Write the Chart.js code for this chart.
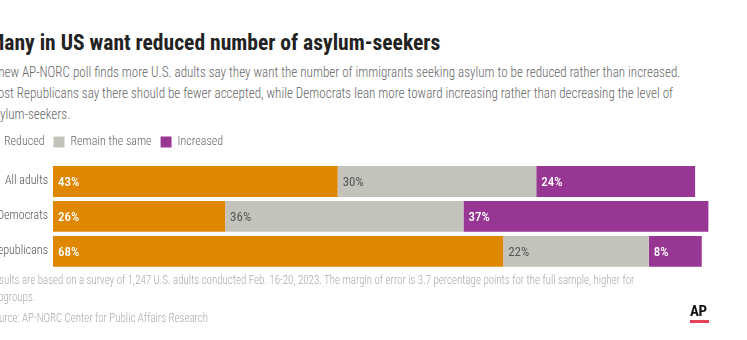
<!DOCTYPE html>
<html>
<head>
<meta charset="utf-8">
<script src="https://cdn.jsdelivr.net/npm/chart.js@4"></script>
<style>
  body { margin: 0; background: #fff; width: 747px; height: 340px; overflow: hidden; position: relative; font-family: 'Roboto Condensed', Roboto, sans-serif; }
  .txt { position: absolute; left: -12px; white-space: nowrap; transform-origin: left top; }
  #title { top: 30px; font-size: 22px; font-weight: 700; color: #222; line-height: 26px; transform: scaleX(0.98); }
  #subtitle { top: 62px; font-size: 14px; font-weight: 300; color: #666; line-height: 21px; transform: scaleX(0.935); }
  #notes { top: 272px; font-size: 12px; font-weight: 300; color: #aaa; line-height: 17px; transform: scaleX(0.91); }
  #source { top: 310px; font-size: 12px; font-weight: 300; color: #aaa; line-height: 17px; transform: scaleX(0.91); }
  #chartBox { position: absolute; left: -12px; top: 133px; width: 759px; height: 148px; }
  #ap { position: absolute; left: 690px; top: 302px; font: 700 15px 'Roboto Condensed', Roboto, sans-serif; color: #111; letter-spacing: -0.5px; }
  #apLine { position: absolute; left: 690px; top: 320px; width: 19px; height: 3px; background: #e8425a; }
</style>
</head>
<body>
<div id="title" class="txt">Many in US want reduced number of asylum-seekers</div>
<div id="subtitle" class="txt">A new AP-NORC poll finds more U.S. adults say they want the number of immigrants seeking asylum to be reduced rather than increased.<br>Most Republicans say there should be fewer accepted, while Democrats lean more toward increasing rather than decreasing the level of<br>asylum-seekers.</div>
<div id="chartBox"><canvas id="barChart"></canvas></div>
<div id="notes" class="txt">Results are based on a survey of 1,247 U.S. adults conducted Feb. 16-20, 2023. The margin of error is 3.7 percentage points for the full sample, higher for<br>subgroups.</div>
<div id="source" class="txt">Source: AP-NORC Center for Public Affairs Research</div>
<div id="ap">AP</div>
<div id="apLine"></div>

<script>
// data
const groups = ['All adults', 'Democrats', 'Republicans'];
const seriesNames = ['Reduced', 'Remain the same', 'Increased'];
const reduced = [43, 26, 68];
const remainSame = [30, 36, 22];
const increased = [24, 37, 8];

const colors = ['#df8700', '#c4c3bb', '#983793'];
const labelColors = ['#ffffff', '#555555', '#ffffff'];
const labelWeights = ['500', '400', '500'];

const fontFamily = "'Roboto Condensed', Roboto, sans-serif";

// value labels drawn at the start of each bar segment
const valueLabels = {
  id: 'valueLabels',
  afterDatasetsDraw(chart) {
    const ctx = chart.ctx;
    ctx.save();
    ctx.textBaseline = 'middle';
    ctx.textAlign = 'left';
    chart.data.datasets.forEach((ds, i) => {
      const meta = chart.getDatasetMeta(i);
      meta.data.forEach((bar, j) => {
        ctx.fillStyle = labelColors[i];
        ctx.font = labelWeights[i] + ' 13px ' + fontFamily;
        ctx.fillText(ds.data[j] + '%', Math.min(bar.x, bar.base) + 5, bar.y + 1);
      });
    });
    ctx.restore();
  }
};

// nudge the legend so it lines up with the text column (partly off the left edge)
const legendShift = {
  id: 'legendShift',
  afterLayout(chart) {
    chart.legend.left -= 10;
    chart.legend.top -= 6;
  }
};

new Chart(document.getElementById('barChart'), {
  type: 'bar',
  data: {
    labels: groups,
    datasets: [
      { label: seriesNames[0], data: reduced, backgroundColor: colors[0] },
      { label: seriesNames[1], data: remainSame, backgroundColor: colors[1] },
      { label: seriesNames[2], data: increased, backgroundColor: colors[2] }
    ]
  },
  options: {
    indexAxis: 'y',
    responsive: true,
    maintainAspectRatio: false,
    animation: false,
    datasets: { bar: { barPercentage: 1, categoryPercentage: 30 / 34, borderWidth: 0 } },
    layout: { padding: { left: 0, right: 32, top: 0, bottom: 4 } },
    plugins: {
      legend: {
        position: 'top',
        align: 'start',
        labels: {
          boxWidth: 11,
          boxHeight: 11,
          padding: 9,
          color: '#666',
          font: { family: fontFamily, size: 12, weight: '300' }
        }
      },
      tooltip: { enabled: false }
    },
    scales: {
      x: {
        stacked: true,
        min: 0,
        max: 100,
        display: false
      },
      y: {
        stacked: true,
        border: { display: false },
        grid: { display: false, drawTicks: false },
        ticks: {
          padding: 5,
          color: '#555',
          font: { family: fontFamily, size: 12, weight: '300' }
        },
        afterFit(scale) { scale.width = 65; }
      }
    }
  },
  plugins: [valueLabels, legendShift]
});
</script>
</body>
</html>
